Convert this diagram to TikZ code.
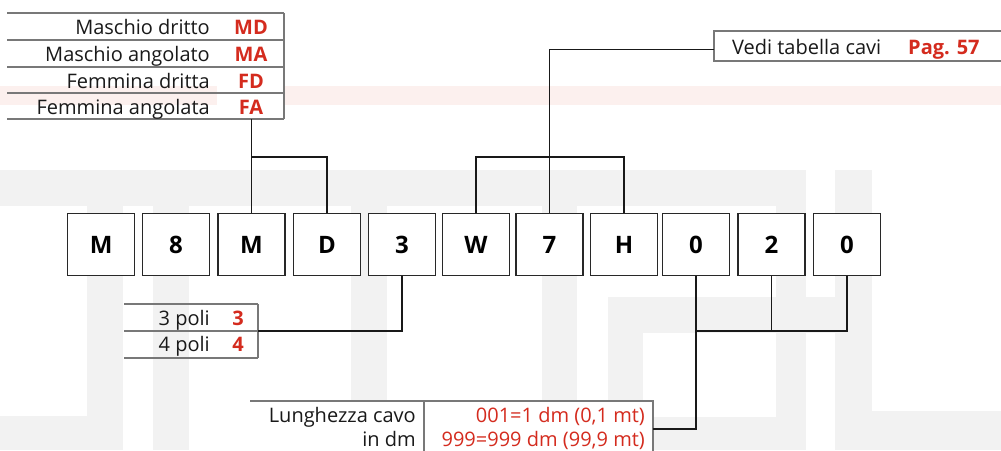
\documentclass[tikz,border=0pt]{standalone}
\usepackage{fontspec}
\setmainfont{Open Sans}
\definecolor{wm}{RGB}{242,242,242}
\definecolor{wmred}{RGB}{252,240,238}
\definecolor{codered}{RGB}{212,43,30}
\definecolor{tabline}{RGB}{120,120,120}
\definecolor{boxline}{RGB}{40,40,40}
\begin{document}
\begin{tikzpicture}[x=1pt,y=-1pt,
  letterbox/.style={draw=boxline,line width=1.4pt,fill=white,minimum width=67pt,minimum height=62pt,inner sep=0pt,font=\fontsize{24}{28}\selectfont\bfseries},
  conn/.style={draw=black!90,line width=1.3pt},
  tline/.style={draw=tabline,line width=1.3pt},
  lbl/.style={inner sep=0pt,font=\fontsize{20}{24}\selectfont,text=black!90},
  code/.style={inner sep=0pt,font=\fontsize{20}{24}\selectfont\bfseries,text=codered},
  redtxt/.style={inner sep=0pt,font=\fontsize{20}{24}\selectfont,text=codered},
  wmark/.style={fill=wm,draw=none}]
\useasboundingbox (0,0) rectangle (1001,450);
% watermark
\fill[wmred] (0,86) rectangle (217,105);
\fill[wmred] (283,86) rectangle (1001,105);
\fill[wmark] (0,170) rectangle (806,206);
\fill[wmark] (835,170) rectangle (872,450);
\fill[wmark] (872,411) rectangle (1001,450);
\fill[wmark] (87,206) rectangle (123,450);
\fill[wmark] (153,206) rectangle (189,450);
\fill[wmark] (351,206) rectangle (387,450);
\fill[wmark] (542,206) rectangle (577,450);
\fill[wmark] (776,206) rectangle (806,450);
\fill[wmark] (608,297) rectangle (835,333);
\fill[wmark] (608,333) rectangle (643,450);
\fill[wmark] (643,417) rectangle (776,450);
\fill[wmark] (0,416) rectangle (87,450);
% top-left table
\foreach \y in {13,40,67,93,119} \draw[tline] (7,\y) -- (284,\y);
\draw[tline] (284,13) -- (284,119);
\coordinate (topTab) at (250,119);
\node[lbl,anchor=base east] (t1) at (210,34.5) {Maschio dritto};
\node[lbl,anchor=base east] (t2) at (210,61.5) {Maschio angolato};
\node[lbl,anchor=base east] (t3) at (210,88) {Femmina dritta};
\node[lbl,anchor=base east] (t4) at (210,114) {Femmina angolata};
\node[code,anchor=base] (c1) at (251,34.5) {MD};
\node[code,anchor=base] (c2) at (251,61.5) {MA};
\node[code,anchor=base] (c3) at (251,88) {FD};
\node[code,anchor=base] (c4) at (251,114) {FA};
% Vedi box
\draw[tline,fill=white] (714,31) rectangle (1004,61);
\coordinate (vedi) at (714,49.3);
\node[lbl,anchor=base west] (v1) at (732,54) {Vedi tabella cavi};
\node[code,anchor=base west] (v2) at (908,54) {Pag. 57};
% poli table
\foreach \y in {304,331,358} \draw[tline] (124,\y) -- (258,\y);
\draw[tline] (258,304) -- (258,358);
\coordinate (poli) at (258,331);
\node[lbl,anchor=base east] (p1) at (210,325) {3 poli};
\node[lbl,anchor=base east] (p2) at (210,351.5) {4 poli};
\node[code,anchor=base] (pc1) at (238,325) {3};
\node[code,anchor=base] (pc2) at (238,351.5) {4};
% Lunghezza table
\fill[white] (250,401) rectangle (653,452);
\draw[tline] (250,401) -- (653,401) -- (653,452);
\draw[tline] (424,401) -- (424,452);
\coordinate (lung) at (653,429);
\node[lbl,anchor=base east] (l1) at (416,422) {Lunghezza cavo};
\node[lbl,anchor=base east] (l2) at (416,446) {in dm};
\node[redtxt,anchor=base east] (r1) at (645,422) {001=1 dm (0,1 mt)};
\node[redtxt,anchor=base east] (r2) at (645,446) {999=999 dm (99,9 mt)};
% letter boxes
\node[letterbox] (b1) at (101.25,244.5) {M};
\node[letterbox] (b2) at (176,244.5) {8};
\node[letterbox] (b3) at (251.5,244.5) {M};
\node[letterbox] (b4) at (327,244.5) {D};
\node[letterbox] (b5) at (402,244.5) {3};
\node[letterbox] (b6) at (476,244.5) {W};
\node[letterbox] (b7) at (549.5,244.5) {7};
\node[letterbox] (b8) at (624,244.5) {H};
\node[letterbox] (b9) at (696,244.5) {0};
\node[letterbox] (b10) at (771.5,244.5) {2};
\node[letterbox] (b11) at (847,244.5) {0};
% connectors
\coordinate (jA) at (0,157);
\coordinate (jC) at (0,331);
\draw[conn] (b3.north) -- (b3.north |- topTab);
\draw[conn] (b4.north) -- (b4.north |- jA) -- (b3.north |- jA);
\draw[conn] (b6.north) -- (b6.north |- jA) -| (b8.north);
\draw[conn] (b7.north) |- (vedi);
\draw[conn] (b5.south) |- (poli);
\draw[conn] (b9.south) -- (b9.south |- jC) -| (b11.south);
\draw[conn] (b10.south) -- (b10.south |- jC);
\draw[conn] (b9.south |- jC) |- (lung);
\end{tikzpicture}
\end{document}
